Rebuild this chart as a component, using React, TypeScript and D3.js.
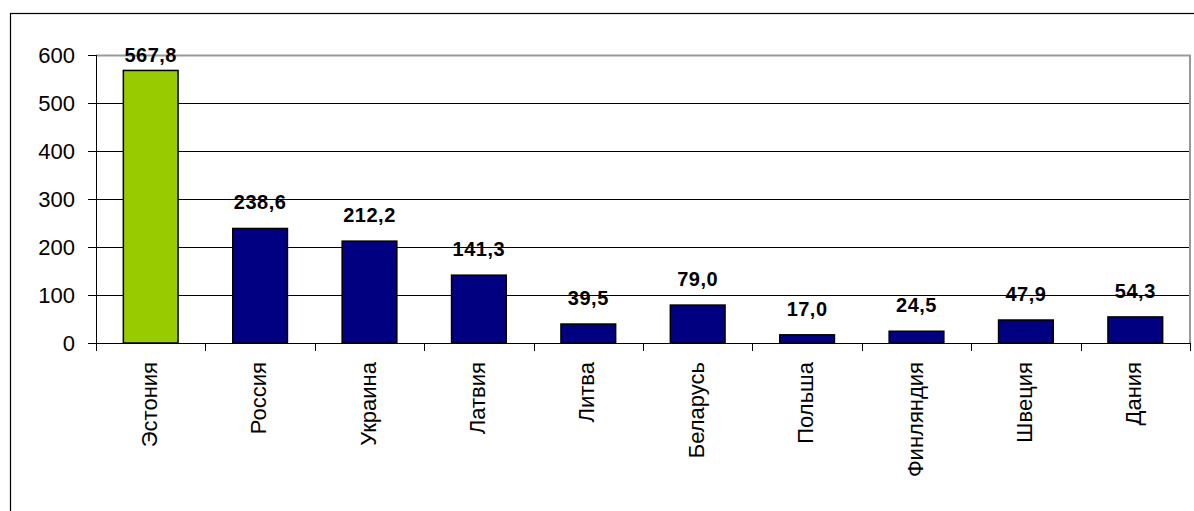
import React from "react";
import * as d3 from "d3";

const categories = ["Эстония", "Россия", "Украина", "Латвия", "Литва", "Беларусь", "Польша", "Финляндия", "Швеция", "Дания"];
const values = [567.8, 238.6, 212.2, 141.3, 39.5, 79.0, 17.0, 24.5, 47.9, 54.3];
const labels = ["567,8", "238,6", "212,2", "141,3", "39,5", "79,0", "17,0", "24,5", "47,9", "54,3"];
const yTicks = [0, 100, 200, 300, 400, 500, 600];
const highlight = "Эстония";

const W = 1194;
const H = 511;
const plot = { left: 96, right: 1190, top: 55, bottom: 343 };
const font = "Arial, 'Liberation Sans', sans-serif";

export default function App() {
  const x = d3
    .scaleBand<string>()
    .domain(categories)
    .range([plot.left, plot.right])
    .paddingInner(0.5)
    .paddingOuter(0.25);
  const y = d3.scaleLinear().domain([0, 600]).range([plot.bottom, plot.top]);
  const step = x.step();
  const boundaries = d3.range(categories.length + 1).map((i) => plot.left + i * step);

  return (
    <svg
      width={W}
      height={H}
      style={{ position: "absolute", left: 0, top: 0, background: "#fff" }}
      fontFamily={font}
    >
      <rect x={0} y={0} width={W} height={H} fill="#fff" />
      {/* outer chart border */}
      <rect x={10.5} y={13.5} width={W + 20} height={H + 20} fill="none" stroke="#000" strokeWidth={1.2} />

      {/* gridlines */}
      {yTicks
        .filter((t) => t > 0 && t < 600)
        .map((t) => (
          <line key={"g" + t} x1={plot.left} x2={plot.right} y1={Math.round(y(t)) + 0.5} y2={Math.round(y(t)) + 0.5} stroke="#000" strokeWidth={1} />
        ))}
      {/* plot area border top/right gray */}
      <polyline
        points={`${plot.left},${plot.top + 0.5} ${plot.right},${plot.top + 0.5} ${plot.right},${plot.bottom}`}
        fill="none"
        stroke="#999"
        strokeWidth={2}
      />

      {/* bars */}
      {categories.map((c, i) => {
        const top = y(values[i]);
        return (
          <rect
            key={c}
            x={x(c)}
            y={top}
            width={x.bandwidth()}
            height={plot.bottom - top}
            fill={c === highlight ? "#99CC00" : "#000080"}
            stroke="#000"
            strokeWidth={1.5}
          />
        );
      })}

      {/* axes */}
      <line x1={plot.left + 0.5} x2={plot.left + 0.5} y1={plot.top} y2={plot.bottom} stroke="#000" strokeWidth={1} />
      <line x1={plot.left} x2={plot.right} y1={plot.bottom + 0.5} y2={plot.bottom + 0.5} stroke="#000" strokeWidth={1} />
      {yTicks.map((t) => (
        <g key={"t" + t}>
          <line x1={plot.left - 8} x2={plot.left} y1={Math.round(y(t)) + 0.5} y2={Math.round(y(t)) + 0.5} stroke="#000" strokeWidth={1} />
          <text x={75} y={y(t) + 8} textAnchor="end" fontSize={22} fill="#000">
            {t}
          </text>
        </g>
      ))}
      {boundaries.map((bx, i) => (
        <line key={"xt" + i} x1={Math.round(bx) + 0.5} x2={Math.round(bx) + 0.5} y1={plot.bottom} y2={plot.bottom + 8} stroke="#000" strokeWidth={1} />
      ))}

      {/* category labels */}
      {categories.map((c) => {
        const cx = (x(c) as number) + x.bandwidth() / 2 + 6;
        return (
          <text key={"c" + c} transform={`translate(${cx},362) rotate(-90)`} textAnchor="end" fontSize={22} fill="#000">
            {c}
          </text>
        );
      })}

      {/* data labels */}
      {categories.map((c, i) => {
        const cx = (x(c) as number) + x.bandwidth() / 2;
        const ly = Math.max(y(values[i]) - 19, 62);
        return (
          <text key={"l" + c} x={cx} y={ly} textAnchor="middle" fontSize={20} fontWeight="bold" letterSpacing={0.5} fill="#000">
            {labels[i]}
          </text>
        );
      })}
    </svg>
  );
}
